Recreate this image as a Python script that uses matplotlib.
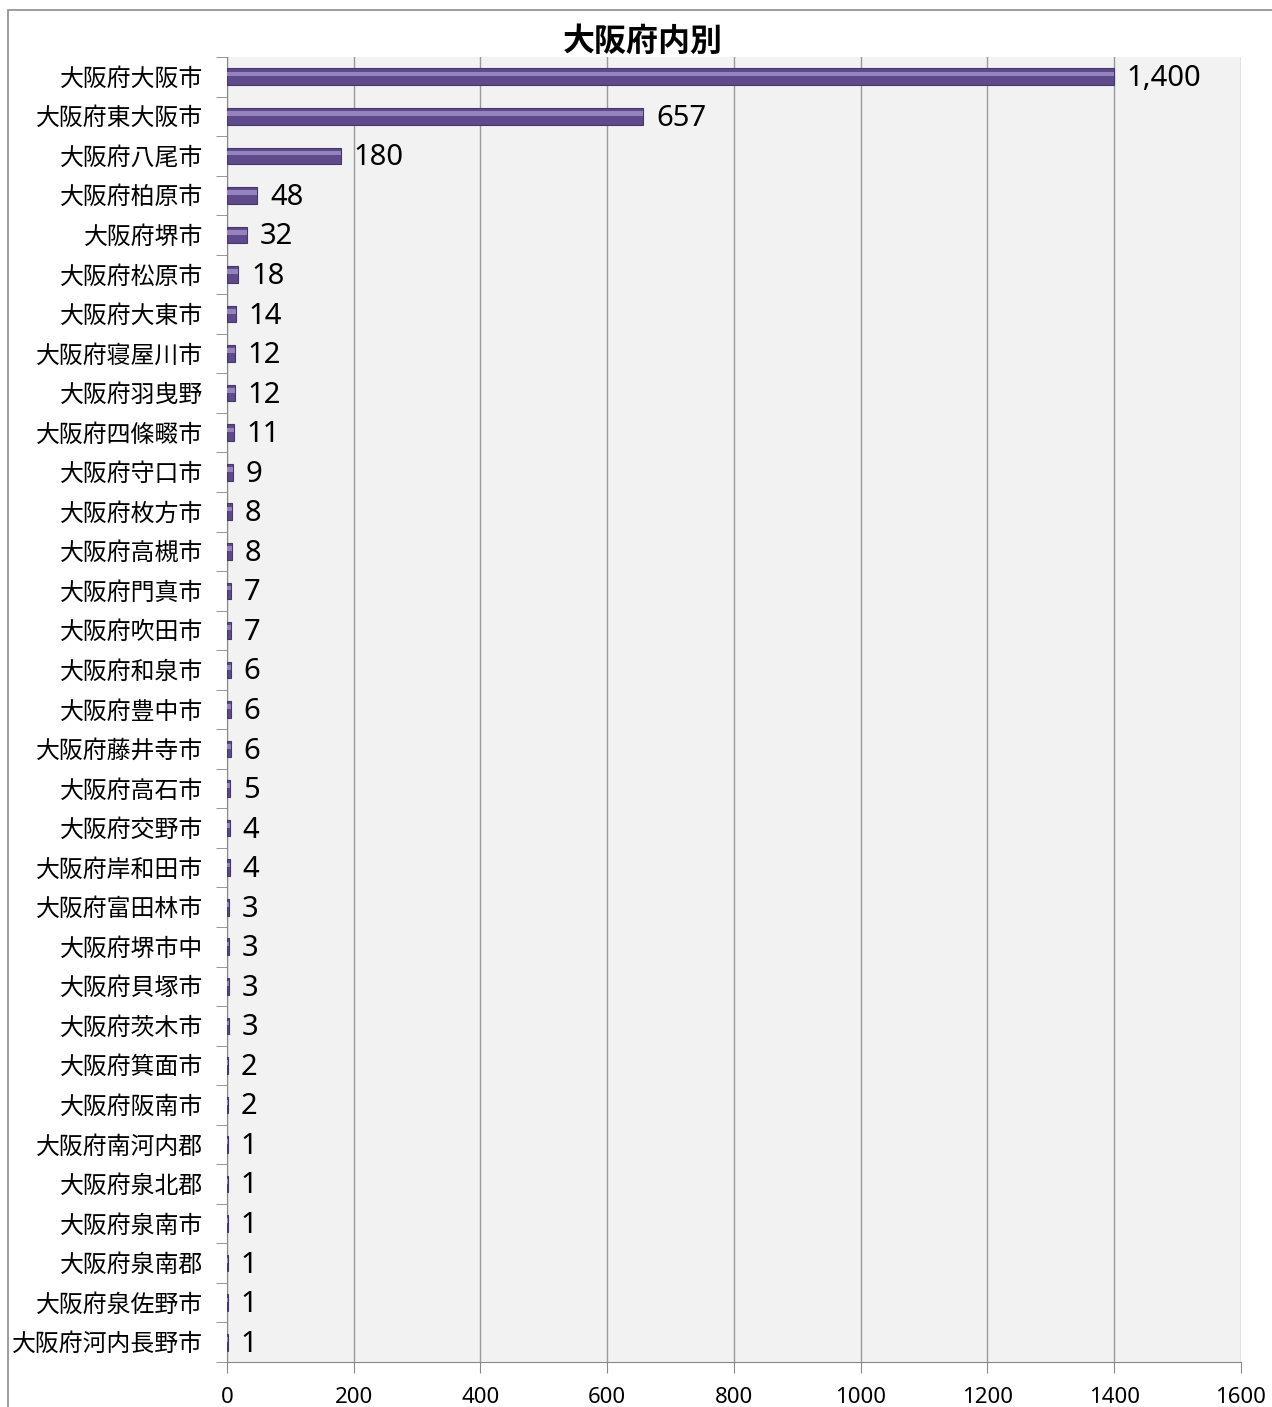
import matplotlib.pyplot as plt
from matplotlib.patches import Rectangle

plt.rcParams['font.family'] = ['Noto Sans CJK JP', 'DejaVu Sans']

# data (top to bottom as shown)
cities = ["大阪府大阪市", "大阪府東大阪市", "大阪府八尾市", "大阪府柏原市", "大阪府堺市",
          "大阪府松原市", "大阪府大東市", "大阪府寝屋川市", "大阪府羽曳野", "大阪府四條畷市",
          "大阪府守口市", "大阪府枚方市", "大阪府高槻市", "大阪府門真市", "大阪府吹田市",
          "大阪府和泉市", "大阪府豊中市", "大阪府藤井寺市", "大阪府高石市", "大阪府交野市",
          "大阪府岸和田市", "大阪府富田林市", "大阪府堺市中", "大阪府貝塚市", "大阪府茨木市",
          "大阪府箕面市", "大阪府阪南市", "大阪府南河内郡", "大阪府泉北郡", "大阪府泉南市",
          "大阪府泉南郡", "大阪府泉佐野市", "大阪府河内長野市"]
counts = [1400, 657, 180, 48, 32, 18, 14, 12, 12, 11, 9, 8, 8, 7, 7, 6, 6, 6, 5, 4,
          4, 3, 3, 3, 3, 2, 2, 1, 1, 1, 1, 1, 1]
xticks = [0, 200, 400, 600, 800, 1000, 1200, 1400, 1600]

numfont = ['Noto Sans', 'Noto Sans CJK JP']

fig = plt.figure(figsize=(12.72, 14.07), dpi=100)
ax = fig.add_axes([0.1785, 0.032, 0.797, 0.9275])

# outer chart border
fig.patches.append(Rectangle((0.0065, -0.01), 1.1, 1.003, transform=fig.transFigure,
                             fill=False, edgecolor="#8c8c8c", linewidth=1.2))

ypos = list(range(len(cities)))
ax.set_facecolor("#f2f2f2")
ax.barh(ypos, counts, height=0.42, color="#5f4b8b", edgecolor="#46376a", linewidth=0.8, zorder=3)
# highlight band to mimic the bevel
ax.barh([y - 0.07 for y in ypos], counts, height=0.12, color="#9583bd", linewidth=0, zorder=4)

for y, v in zip(ypos, counts):
    ax.text(v + 20, y + 0.05, f"{v:,}", va="center", ha="left", fontsize=21,
            family=numfont, zorder=5)

ax.set_ylim(len(cities) - 0.5, -0.5)
ax.set_xlim(0, 1600)
ax.set_xticks(xticks)
ax.set_xticklabels([str(t) for t in xticks], fontsize=16, family=numfont)
ax.set_yticks(ypos)
ax.set_yticklabels(cities, fontsize=17.2)
ax.set_yticks([y + 0.5 for y in range(-1, len(cities))], minor=True)
ax.tick_params(axis="y", which="major", length=0, pad=17)
ax.tick_params(axis="y", which="minor", length=8, color="#888888", direction="out")
ax.tick_params(axis="x", length=8, color="#888888", pad=10)
ax.grid(axis="x", color="#9a9a9a", linewidth=1, zorder=1)
ax.set_axisbelow(True)
for side in ["top", "right"]:
    ax.spines[side].set_visible(False)
ax.spines["left"].set_color("#888888")
ax.spines["bottom"].set_color("#888888")

fig.text(0.505, 0.970, "大阪府内別", ha="center", va="center", fontsize=23, fontweight="bold")

fig.savefig("out.png", dpi=100)
